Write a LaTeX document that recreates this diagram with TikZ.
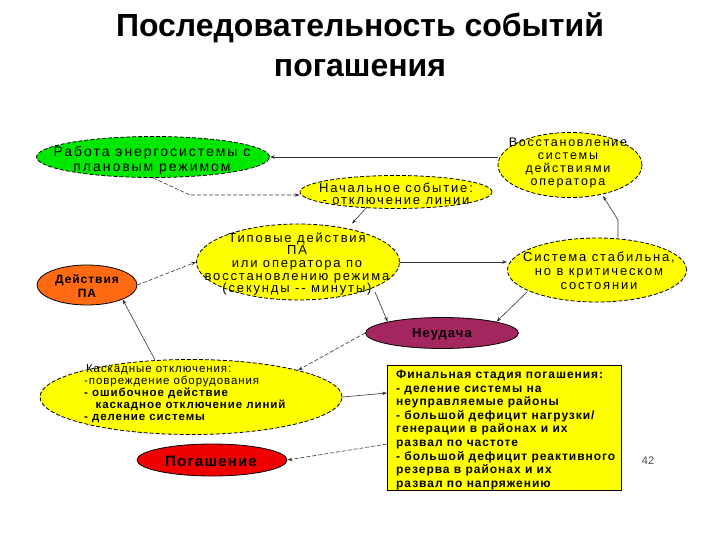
\documentclass[tikz,border=0pt]{standalone}
\usepackage{fontspec}
\setmainfont{Liberation Sans}
\newfontfamily\wfont[LetterSpace=14]{Liberation Sans}
\newfontfamily\spfont[LetterSpace=8]{Liberation Sans}
\newfontfamily\bfont[LetterSpace=8]{Liberation Sans Bold}
\usetikzlibrary{shapes.geometric,arrows.meta}
\definecolor{ylw}{HTML}{FFFF00}
\definecolor{grn}{HTML}{00E800}
\definecolor{org}{HTML}{FF6A13}
\definecolor{pur}{HTML}{A3265F}
\definecolor{rd}{HTML}{F00000}
\tikzset{
  ell/.style={ellipse, inner sep=0pt, draw=black, line width=0.8pt},
  dell/.style={ell, dashed, dash pattern=on 4pt off 2pt},
  lbl/.style={inner sep=0pt, align=center},
  arr/.style={-{Stealth[length=5pt,width=3.5pt]}, line width=0.6pt, black!80},
  darr/.style={arr, dash pattern=on 4pt off 2pt},
}
\begin{document}
\begin{tikzpicture}[x=1pt,y=-1pt]
\useasboundingbox (0,0) rectangle (720,540);
% title
\node[font=\bfseries\fontsize{32}{40}\selectfont, align=center] (title) at (360,45) {Последовательность событий\\погашения};
% shapes
\node[dell, fill=grn, minimum width=233, minimum height=41] (rab) at (153,157) {};
\node[dell, fill=ylw, minimum width=192, minimum height=33] (nach) at (396,192) {};
\node[dell, fill=ylw, minimum width=144, minimum height=65] (vos) at (570,165) {};
\node[dell, fill=ylw, minimum width=203, minimum height=76] (tip) at (298,262) {};
\node[ell, fill=org, minimum width=100, minimum height=40] (dpa) at (87,285) {};
\node[dell, fill=ylw, minimum width=179, minimum height=64] (sta) at (597,270) {};
\node[ell, fill=pur, minimum width=153, minimum height=31] (neu) at (442,333) {};
\node[dell, fill=ylw, minimum width=302, minimum height=75] (kas) at (191,397) {};
\node[draw=black, fill=ylw, line width=0.7pt, minimum width=234, minimum height=125, inner sep=0pt] (fin) at (504.5,428) {};
\node[ell, fill=rd, minimum width=150, minimum height=32] (pog) at (212,460) {};
% texts
\node[lbl, font=\wfont\fontsize{14}{15}\selectfont] (rabt) at (152,160) {Работа энергосистемы с\\плановым режимом};
\node[lbl, font=\wfont\fontsize{13}{12.5}\selectfont] (nacht) at (396,194) {Начальное событие:\\- отключение линии};
\node[lbl, font=\wfont\fontsize{12.5}{13}\selectfont] (vost) at (568,163) {Восстановление\\системы\\действиями\\оператора};
\node[lbl, font=\wfont\fontsize{13}{12.6}\selectfont] (tipt) at (297,264) {Типовые действия\\ПА\\или оператора по\\восстановлению режима\\(секунды -- минуты)};
\node[lbl, font=\bfont\fontsize{12}{13.5}\selectfont] (dpat) at (87,286) {Действия\\ПА};
\node[lbl, font=\wfont\fontsize{13}{14}\selectfont] (stat) at (599,271) {Система стабильна,\\но в критическом\\состоянии};
\node[lbl, font=\bfont\fontsize{13}{13}\selectfont] (neut) at (442,334) {Неудача};
\node[anchor=north west, inner sep=0pt, align=left, font=\spfont\fontsize{11.5}{12}\selectfont] (kast) at (84,364)
 {\,Каскадные отключения:\\-повреждение оборудования\\\bfseries - ошибочное действие\\\bfseries \quad каскадное отключение линий\\\bfseries - деление системы};
\node[anchor=north west, inner sep=0pt, align=left, font=\bfont\fontsize{12}{13.6}\selectfont] (fint) at (396,370)
 {Финальная стадия погашения:\\- деление системы на\\неуправляемые районы\\- большой дефицит нагрузки/\\генерации в районах и их\\развал по частоте\\- большой дефицит реактивного\\резерва в районах и их\\развал по напряжению};
\node[lbl, font=\bfont\fontsize{15}{15}\selectfont] (pogt) at (211,461) {Погашение};
\node[font=\fontsize{11}{12}\selectfont, text=black!70] (num) at (648,461) {42};
% connectors
\draw[arr] (vos.west |- 0,157) -- (rab.east);
\coordinate (b1) at (190,195);
\draw[darr] (rab.south) -- (b1) -- (nach.west |- b1);
\draw[arr] (367,207) -- (tip.north -| 352,0);
\draw[arr] (tip.east) -- (sta.west |- tip.east);
\coordinate (b2) at (618,220);
\draw[arr] (sta.north -| b2) -- (b2) -- (603,196);
\draw[arr] (375,292) -- (neu.north west);
\draw[arr] (527,292) -- (neu.north east);
\draw[darr] (dpa.east) -- (tip.west);
\draw[arr] (155,360) -- (dpa.south east);
\draw[darr] (neu.west) -- (kas.north east);
\draw[arr] (kas.east) -- (fin.west |- 0,393);
\draw[darr] (fin.west |- 0,444) -- (pog.east);
\end{tikzpicture}
\end{document}
